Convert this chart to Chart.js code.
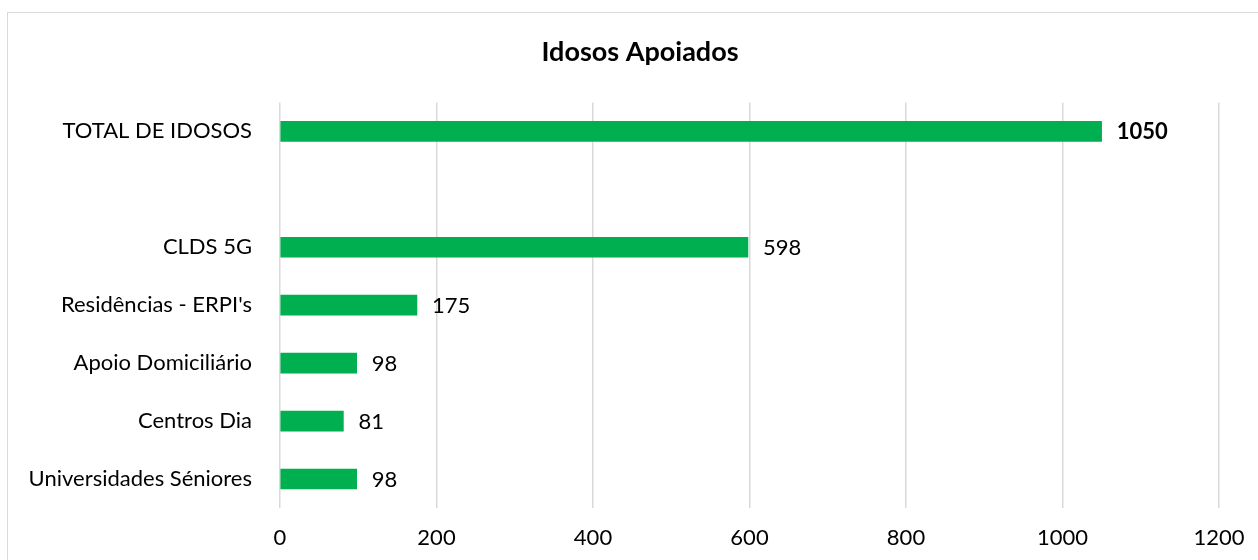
<!DOCTYPE html>
<html lang="pt">
<head>
<meta charset="utf-8">
<title>Idosos Apoiados</title>
<script src="https://cdn.jsdelivr.net/npm/chart.js@4/dist/chart.umd.min.js"></script>
<style>
  html, body { margin: 0; padding: 0; background: #ffffff; overflow: hidden; }
  #wrap { position: relative; width: 1258px; height: 560px; }
  #frame { position: absolute; left: 7px; top: 12px; width: 1300px; height: 600px;
           border: 1px solid #d9d9d9; box-sizing: border-box; }
  #chart { position: absolute; left: 0; top: 0; }
</style>
</head>
<body>
<div id="wrap">
  <div id="frame"></div>
  <canvas id="chart" width="1258" height="560"></canvas>
</div>
<script>
// Categories (the empty entry leaves a gap under the total)
const categories = [
  "TOTAL DE IDOSOS",
  "",
  "CLDS 5G",
  "Residências - ERPI's",
  "Apoio Domiciliário",
  "Centros Dia",
  "Universidades Séniores"
];
// Number of elderly people supported per service
const supported = [1050, null, 598, 175, 98, 81, 98];
// Horizontal axis ticks
const xTicks = [0, 200, 400, 600, 800, 1000, 1200];

const FONT = "Lato, 'Open Sans', 'Noto Sans', sans-serif";
const TEXT = "#000000";
const LABEL_SIZE = 22;

// Writes each bar's value just past its end
const valueLabels = {
  id: "valueLabels",
  afterDatasetsDraw(chart) {
    const ctx = chart.ctx;
    const meta = chart.getDatasetMeta(0);
    ctx.save();
    ctx.textAlign = "left";
    ctx.textBaseline = "middle";
    ctx.fillStyle = TEXT;
    meta.data.forEach((bar, i) => {
      const v = chart.data.datasets[0].data[i];
      if (v === null || v === undefined) return;
      ctx.font = (i === 0 ? "bold " : "") + LABEL_SIZE + "px " + FONT;
      ctx.fillText(String(v), bar.x + 15, bar.y + 1);
    });
    ctx.restore();
  }
};

new Chart(document.getElementById("chart"), {
  type: "bar",
  data: {
    labels: categories,
    datasets: [{
      data: supported,
      backgroundColor: "#00b050",
      borderWidth: 0,
      barThickness: 20
    }]
  },
  options: {
    indexAxis: "y",
    responsive: false,
    animation: false,
    layout: { padding: { left: 22, right: 0, top: 0, bottom: 0 } },
    plugins: {
      legend: { display: false },
      tooltip: { enabled: false },
      title: {
        display: true,
        text: "Idosos Apoiados",
        color: TEXT,
        font: { family: FONT, size: 27, weight: "bold", lineHeight: 1.2 },
        padding: { top: 36, bottom: 34 }
      }
    },
    scales: {
      x: {
        min: 0,
        max: 1200,
        afterBuildTicks(scale) { scale.ticks = xTicks.map(v => ({ value: v })); },
        afterFit(scale) {
          scale.height = 52;
          scale.paddingLeft = 0;
          scale.paddingRight = 39;
        },
        grid: { color: "#d9d9d9", lineWidth: 1.5, drawTicks: false },
        border: { display: false },
        ticks: {
          color: TEXT,
          font: { family: FONT, size: LABEL_SIZE },
          padding: 17,
          callback: v => String(v)
        }
      },
      y: {
        afterFit(scale) { scale.width = 258; },
        grid: { display: false, drawTicks: false },
        border: { display: false },
        ticks: { color: TEXT, font: { family: FONT, size: LABEL_SIZE }, padding: 28, autoSkip: false }
      }
    }
  },
  plugins: [valueLabels]
});
</script>
</body>
</html>
